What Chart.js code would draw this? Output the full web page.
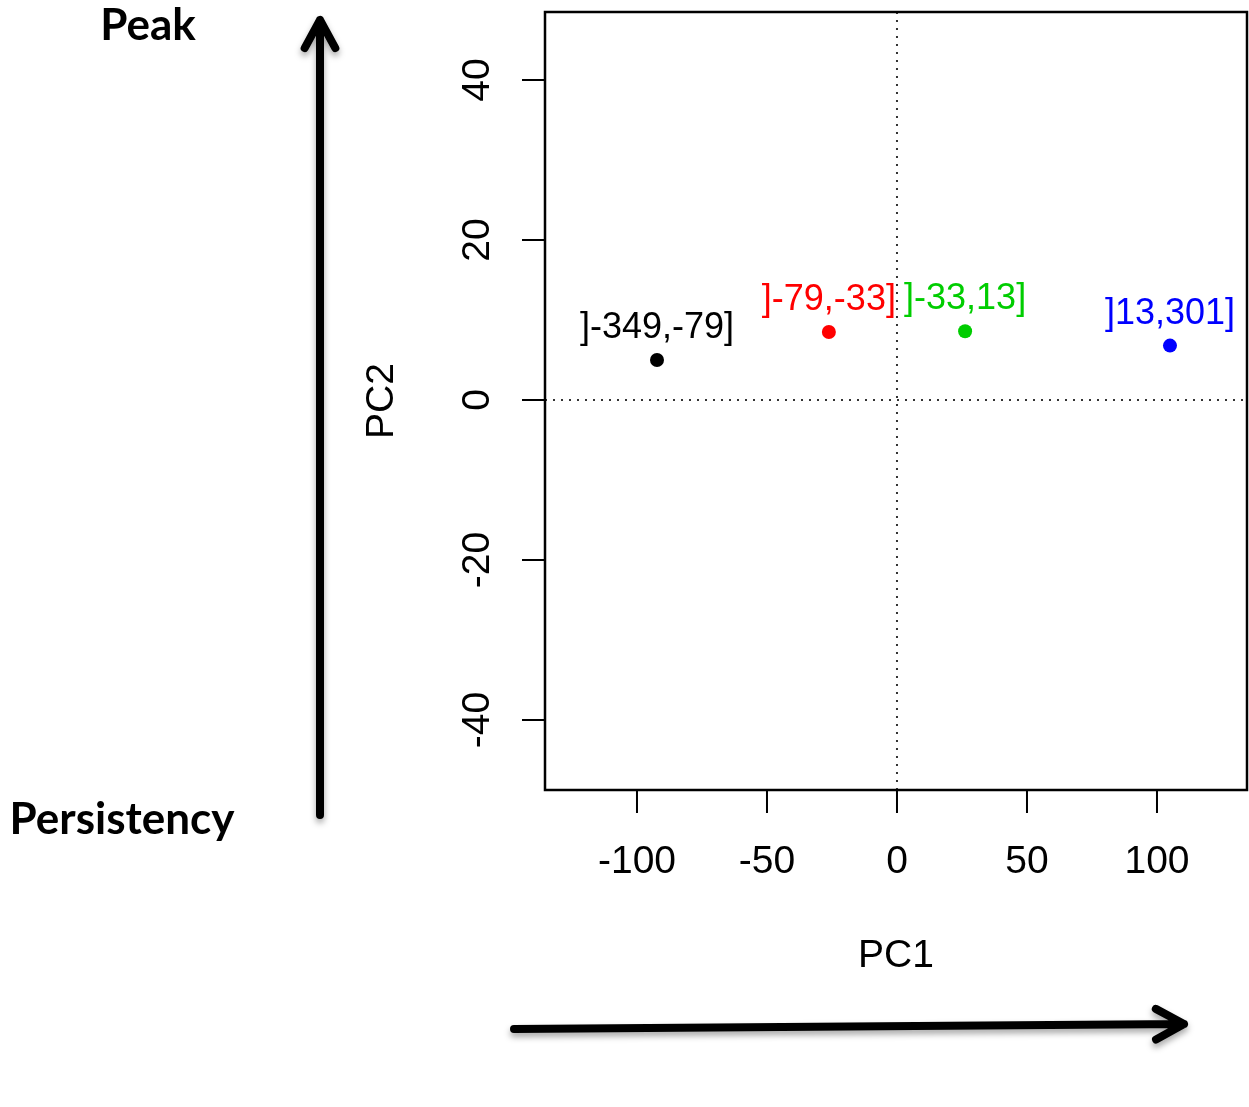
<!DOCTYPE html>
<html>
<head>
<meta charset="utf-8">
<script src="https://cdn.jsdelivr.net/npm/chart.js@4/dist/chart.umd.min.js"></script>
<style>
  html, body { margin: 0; padding: 0; background: #fff; }
  #pca { display: block; }
</style>
</head>
<body>
<canvas id="pca" width="1249" height="1107"></canvas>
<script>
// Class intervals and their PCA scores
const classLabels = [']-349,-79]', ']-79,-33]', ']-33,13]', ']13,301]'];
const pc1Values = [-92.3, -26.2, 26.2, 105.0];
const pc2Values = [5.0, 8.5, 8.6, 6.8];
const pointColors = ['#000000', '#ff0000', '#00cd00', '#0000ff'];

const xTicks = [-100, -50, 0, 50, 100];
const yTicks = [-40, -20, 0, 20, 40];

const xTitle = 'PC1';
const yTitle = 'PC2';
const topNote = 'Peak';
const bottomNote = 'Persistency';

const AXIS_FONT = '39px "Liberation Sans", Arial, sans-serif';
const LABEL_FONT = '36px "Liberation Sans", Arial, sans-serif';
const NOTE_FONT = 'bold 44px Lato, "Open Sans", sans-serif';

function drawText(ctx, text, x, y, font, color, rotate) {
  ctx.save();
  ctx.translate(x, y);
  if (rotate) ctx.rotate(-Math.PI / 2);
  ctx.font = font;
  ctx.fillStyle = color;
  ctx.textAlign = 'center';
  ctx.textBaseline = 'middle';
  ctx.fillText(text, 0, 0);
  ctx.restore();
}

function drawArrow(ctx, x1, y1, x2, y2) {
  const angle = Math.atan2(y2 - y1, x2 - x1);
  const wingBack = 32;
  const wingSpread = 0.5;
  ctx.save();
  ctx.strokeStyle = '#000';
  ctx.lineWidth = 8;
  ctx.lineCap = 'round';
  ctx.lineJoin = 'round';
  ctx.shadowColor = 'rgba(0,0,0,0.35)';
  ctx.shadowBlur = 6;
  ctx.shadowOffsetY = 4;
  ctx.beginPath();
  ctx.moveTo(x1, y1);
  ctx.lineTo(x2, y2);
  ctx.moveTo(x2 - wingBack * Math.cos(angle - wingSpread), y2 - wingBack * Math.sin(angle - wingSpread));
  ctx.lineTo(x2, y2);
  ctx.lineTo(x2 - wingBack * Math.cos(angle + wingSpread), y2 - wingBack * Math.sin(angle + wingSpread));
  ctx.stroke();
  ctx.restore();
}

const decor = {
  id: 'decor',
  beforeDatasetsDraw(chart) {
    const { ctx, chartArea: area, scales: { x, y } } = chart;
    const x0 = x.getPixelForValue(0);
    const y0 = y.getPixelForValue(0);
    ctx.save();
    ctx.strokeStyle = '#333';
    ctx.lineWidth = 2;
    ctx.setLineDash([2, 6]);
    ctx.beginPath();
    ctx.moveTo(x0, area.top);
    ctx.lineTo(x0, area.bottom);
    ctx.moveTo(area.left, y0);
    ctx.lineTo(area.right, y0);
    ctx.stroke();
    ctx.restore();
  },
  afterDatasetsDraw(chart) {
    const { ctx, chartArea: area, scales: { x, y } } = chart;

    // plot box and tick marks
    ctx.save();
    ctx.strokeStyle = '#000';
    ctx.lineWidth = 2.5;
    ctx.strokeRect(area.left, area.top, area.right - area.left, area.bottom - area.top);
    ctx.lineWidth = 2;
    ctx.beginPath();
    xTicks.forEach(v => {
      const px = x.getPixelForValue(v);
      ctx.moveTo(px, area.bottom);
      ctx.lineTo(px, area.bottom + 23);
    });
    yTicks.forEach(v => {
      const py = y.getPixelForValue(v);
      ctx.moveTo(area.left, py);
      ctx.lineTo(area.left - 23, py);
    });
    ctx.stroke();
    ctx.restore();

    xTicks.forEach(v => drawText(ctx, String(v), x.getPixelForValue(v), area.bottom + 72, AXIS_FONT, '#000'));
    yTicks.forEach(v => drawText(ctx, String(v), area.left - 67, y.getPixelForValue(v), AXIS_FONT, '#000', true));

    drawText(ctx, xTitle, (area.left + area.right) / 2, area.bottom + 166, AXIS_FONT, '#000');
    drawText(ctx, yTitle, area.left - 163, (area.top + area.bottom) / 2, AXIS_FONT, '#000', true);

    // class labels above each point
    const meta = chart.getDatasetMeta(0);
    meta.data.forEach((pt, i) => {
      drawText(ctx, classLabels[i], pt.x, pt.y - 32, LABEL_FONT, pointColors[i]);
    });

    // annotation arrows and notes
    drawArrow(ctx, 320, 815, 320, 20);
    drawArrow(ctx, 514, 1029, 1184, 1024);
    drawText(ctx, topNote, 148, 26, NOTE_FONT, '#000');
    drawText(ctx, bottomNote, 122, 820, NOTE_FONT, '#000');
  }
};

new Chart(document.getElementById('pca'), {
  type: 'scatter',
  data: {
    datasets: [{
      data: pc1Values.map((v, i) => ({ x: v, y: pc2Values[i] })),
      pointBackgroundColor: pointColors,
      pointBorderColor: pointColors,
      pointRadius: 7,
      pointHoverRadius: 7,
      pointBorderWidth: 0
    }]
  },
  options: {
    responsive: false,
    animation: false,
    devicePixelRatio: 1,
    layout: { autoPadding: false, padding: { left: 545, top: 12, right: 2, bottom: 317 } },
    scales: {
      x: { type: 'linear', display: false, min: -135.38, max: 134.62 },
      y: { type: 'linear', display: false, min: -48.75, max: 48.5 }
    },
    plugins: {
      legend: { display: false },
      tooltip: { enabled: false }
    }
  },
  plugins: [decor]
});
</script>
</body>
</html>
